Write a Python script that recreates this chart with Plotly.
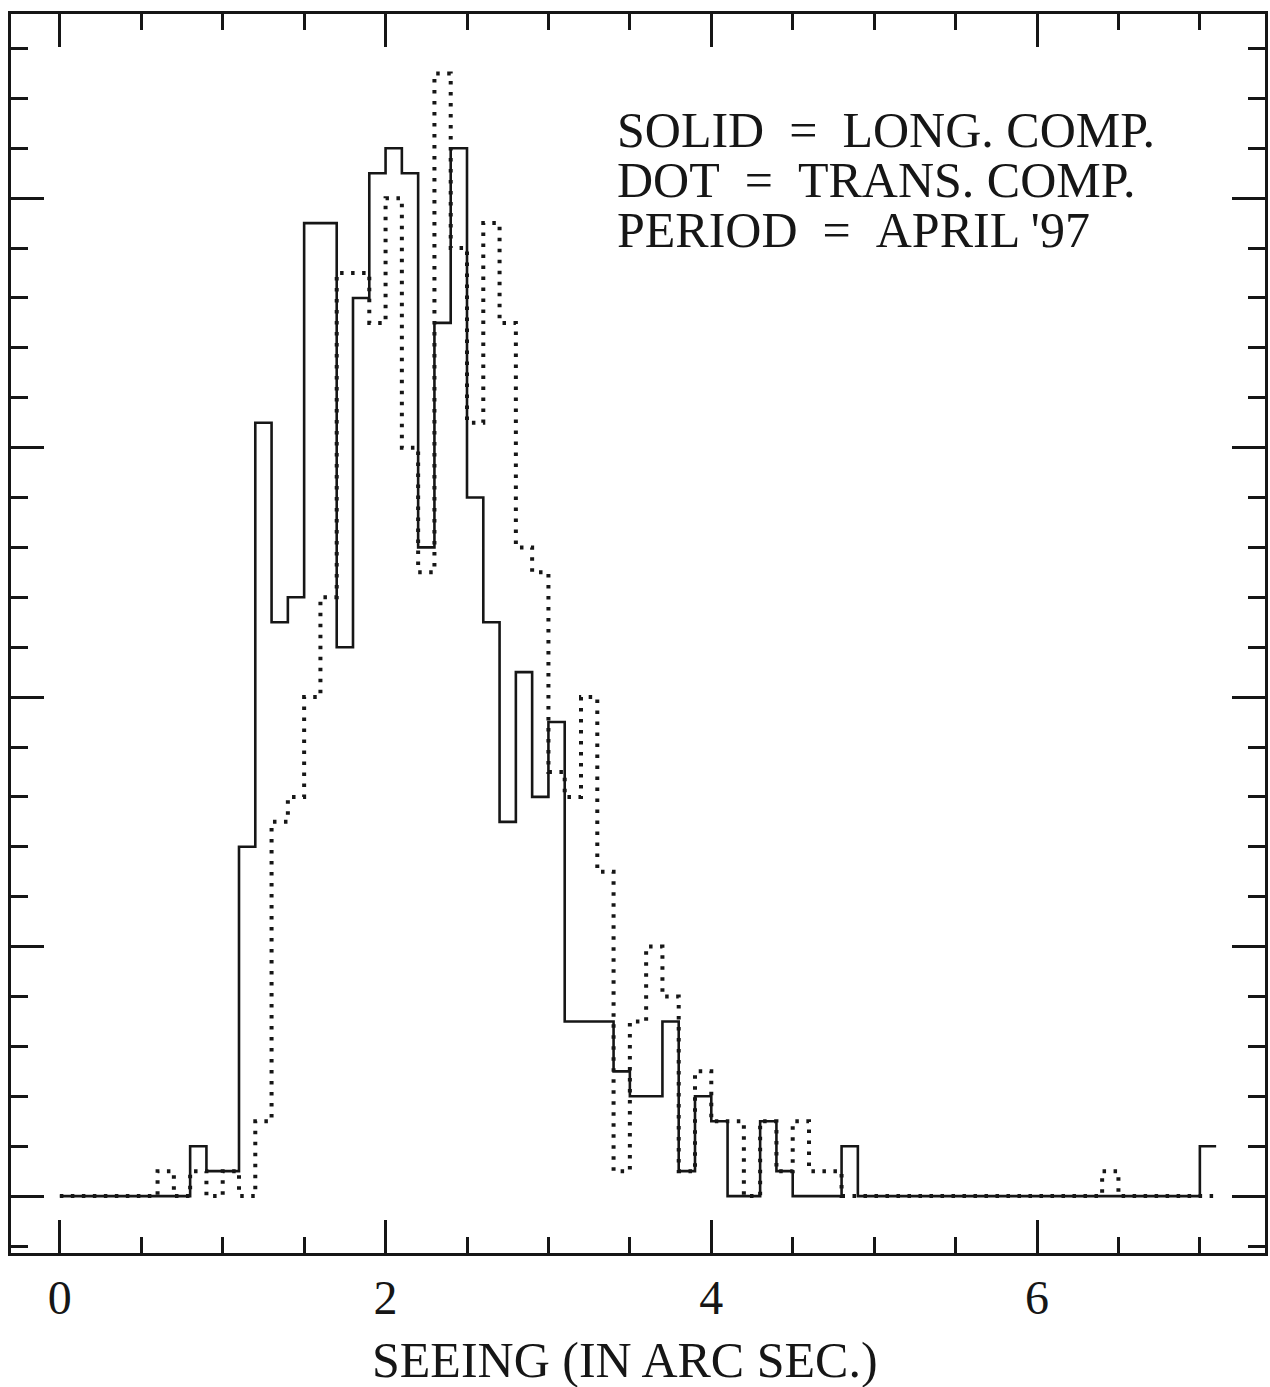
import plotly.graph_objects as go

# Histogram of seeing values, 0.1 arcsec bins starting at 0.0
BIN_START = 0.0
BIN_WIDTH = 0.1

# Longitudinal component (solid line), counts per bin
long_counts = [
    0, 0, 0, 0, 0, 0, 0, 0, 2, 1,        # 0.0 - 0.9
    1, 14, 31, 23, 24, 39, 39, 22, 36, 41,  # 1.0 - 1.9
    42, 41, 26, 35, 42, 28, 23, 15, 21, 16,  # 2.0 - 2.9
    19, 7, 7, 7, 5, 4, 4, 7, 1, 4,        # 3.0 - 3.9
    3, 0, 0, 3, 1, 0, 0, 0, 2, 0,        # 4.0 - 4.9
    0, 0, 0, 0, 0, 0, 0, 0, 0, 0,        # 5.0 - 5.9
    0, 0, 0, 0, 0, 0, 0, 0, 0, 0,        # 6.0 - 6.9
    2,                                   # 7.0
]

# Transverse component (dotted line), counts per bin
trans_counts = [
    0, 0, 0, 0, 0, 0, 1, 0, 1, 0,        # 0.0 - 0.9
    1, 0, 3, 15, 16, 20, 24, 37, 37, 35,  # 1.0 - 1.9
    40, 30, 25, 45, 38, 31, 39, 35, 26, 25,  # 2.0 - 2.9
    17, 16, 20, 13, 1, 7, 10, 8, 1, 5,    # 3.0 - 3.9
    3, 3, 0, 3, 1, 3, 1, 1, 0, 0,        # 4.0 - 4.9
    0, 0, 0, 0, 0, 0, 0, 0, 0, 0,        # 5.0 - 5.9
    0, 0, 0, 0, 1, 0, 0, 0, 0, 0,        # 6.0 - 6.9
    0,                                   # 7.0
]

x_tick_values = [0, 2, 4, 6]
x_tick_labels = ["0", "2", "4", "6"]
y_major_ticks = [0, 10, 20, 30, 40]

legend_lines = [
    "SOLID = LONG. COMP.",
    "DOT = TRANS. COMP.",
    "PERIOD = APRIL '97",
]
x_title = "SEEING (IN ARC SEC.)"


def step_xy(counts):
    """Left bin edges plus the closing right edge, for an 'hv' step line."""
    n = len(counts)
    xs = [round(BIN_START + i * BIN_WIDTH, 2) for i in range(n + 1)]
    ys = list(counts) + [counts[-1]]
    return xs, ys


def spaced(text):
    """Widen the gaps around '=' the way the plotter lettering does."""
    return text.replace(" = ", "\u00a0\u00a0=\u00a0\u00a0")


INK = "#161616"
SERIF = "Liberation Serif, Times New Roman, serif"

fig = go.Figure()

xs, ys = step_xy(trans_counts)
fig.add_trace(go.Scatter(
    x=xs, y=ys, mode="lines", line_shape="hv",
    line=dict(color=INK, width=4, dash="3.5px,7.5px"),
    name="TRANS. COMP.", showlegend=False, hoverinfo="skip",
))

xs, ys = step_xy(long_counts)
fig.add_trace(go.Scatter(
    x=xs, y=ys, mode="lines", line_shape="hv",
    line=dict(color=INK, width=2.6),
    name="LONG. COMP.", showlegend=False, hoverinfo="skip",
))

legend_y = [0.9064, 0.866, 0.8257]
for text, yy in zip(legend_lines, legend_y):
    fig.add_annotation(
        x=(616 - 11) / 1257, y=yy, xref="paper", yref="paper",
        xanchor="left", yanchor="middle", showarrow=False,
        text=spaced(text), font=dict(family=SERIF, size=50, color=INK),
    )

fig.add_annotation(
    x=(626 - 11) / 1257, y=-0.086, xref="paper", yref="paper",
    xanchor="center", yanchor="middle", showarrow=False,
    text=x_title, font=dict(family=SERIF, size=50, color=INK),
)

fig.update_xaxes(
    range=[-0.30, 7.40],
    tickmode="array", tickvals=x_tick_values, ticktext=x_tick_labels,
    ticks="inside", ticklen=33, tickwidth=2.5, tickcolor=INK,
    minor=dict(ticks="inside", tickmode="linear", tick0=0, dtick=0.5,
               ticklen=16, tickwidth=2.5, tickcolor=INK),
    showline=True, linewidth=3, linecolor=INK, mirror="ticks",
    showgrid=False, zeroline=False,
    tickfont=dict(family=SERIF, size=48, color=INK),
    ticklabelstandoff=0,
)

fig.update_yaxes(
    range=[-2.28, 47.38],
    tickmode="array", tickvals=y_major_ticks, showticklabels=False,
    ticks="inside", ticklen=33, tickwidth=2.5, tickcolor=INK,
    minor=dict(ticks="inside", tickmode="linear", tick0=0, dtick=2,
               ticklen=17, tickwidth=2.5, tickcolor=INK),
    showline=True, linewidth=3, linecolor=INK, mirror="ticks",
    showgrid=False, zeroline=False,
)

fig.update_layout(
    width=1270, height=1387,
    margin=dict(l=11, r=2, t=14, b=134),
    paper_bgcolor="white", plot_bgcolor="white",
    showlegend=False,
)

fig.write_html("out.html")
